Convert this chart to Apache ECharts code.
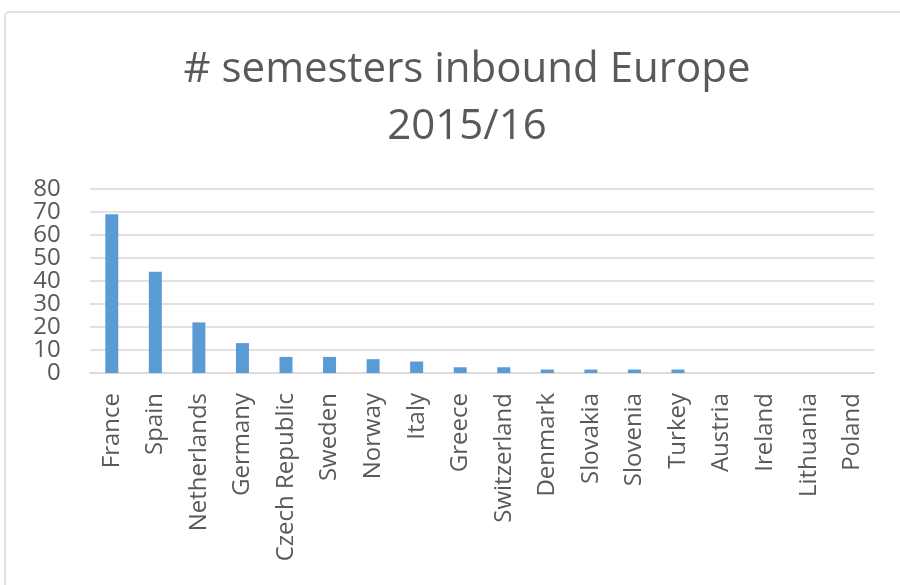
<!DOCTYPE html>
<html>
<head>
    <meta charset="utf-8">
    <script src="https://cdn.jsdelivr.net/npm/echarts@6/dist/echarts.min.js"></script>
</head>
<body style="margin:0;background:#fff">
    <div id="main" style="width:900px;height:585px"></div>
    <script type="text/javascript">
    // countries and number of inbound semesters
    var countries = ['France', 'Spain', 'Netherlands', 'Germany', 'Czech Republic', 'Sweden', 'Norway', 'Italy',
        'Greece', 'Switzerland', 'Denmark', 'Slovakia', 'Slovenia', 'Turkey', 'Austria', 'Ireland', 'Lithuania', 'Poland'];
    var semesters = [69, 44, 22, 13, 7, 7, 6, 5, 2.5, 2.5, 1.5, 1.5, 1.5, 1.5, 0, 0, 0, 0];
    var yTicks = [0, 10, 20, 30, 40, 50, 60, 70, 80];

    var textColor = '#595959';
    var gridColor = '#D9D9D9';

    var myChart = echarts.init(document.getElementById('main'));
    var option = {
        backgroundColor: '#fff',
        textStyle: { fontFamily: 'Open Sans' },
        title: {
            text: '# semesters inbound Europe\n2015/16',
            left: 462,
            top: 37,
            textAlign: 'center',
            textStyle: {
                color: textColor,
                fontSize: 42,
                fontWeight: 'normal',
                fontFamily: 'Open Sans',
                lineHeight: 57
            }
        },
        grid: {
            left: 90,
            right: 26,
            top: 189,
            bottom: 212
        },
        xAxis: {
            type: 'category',
            data: countries,
            axisLine: { show: true, lineStyle: { color: gridColor, width: 1.5 } },
            axisTick: { show: false },
            axisLabel: {
                interval: 0,
                rotate: 90,
                margin: 20,
                color: textColor,
                fontSize: 24
            }
        },
        yAxis: {
            type: 'value',
            min: yTicks[0],
            max: yTicks[yTicks.length - 1],
            interval: 10,
            axisLine: { show: false },
            axisTick: { show: false },
            splitLine: { lineStyle: { color: gridColor, width: 1.5 } },
            // labels are tightly packed, drawn below so none get dropped
            axisLabel: { show: false }
        },
        series: [{
            type: 'bar',
            data: semesters,
            barWidth: 13,
            itemStyle: { color: '#5B9BD5' },
            animation: false
        }]
    };
    myChart.setOption(option);

    // chart frame + y tick labels placed with the axis scale
    var graphics = [{
        type: 'rect',
        shape: { x: 5, y: 12, width: 1000, height: 1000, r: 4 },
        style: { fill: 'none', stroke: gridColor, lineWidth: 1.5 },
        silent: true
    }];
    var labelX = myChart.convertToPixel({ xAxisIndex: 0 }, countries[0]) - 51;
    yTicks.forEach(function(v) {
        graphics.push({
            type: 'text',
            x: labelX,
            y: myChart.convertToPixel({ yAxisIndex: 0 }, v),
            silent: true,
            style: {
                text: String(v),
                fill: textColor,
                fontSize: 24,
                fontFamily: 'Open Sans',
                align: 'right',
                verticalAlign: 'middle'
            }
        });
    });
    myChart.setOption({ graphic: graphics });
    </script>
</body>
</html>
